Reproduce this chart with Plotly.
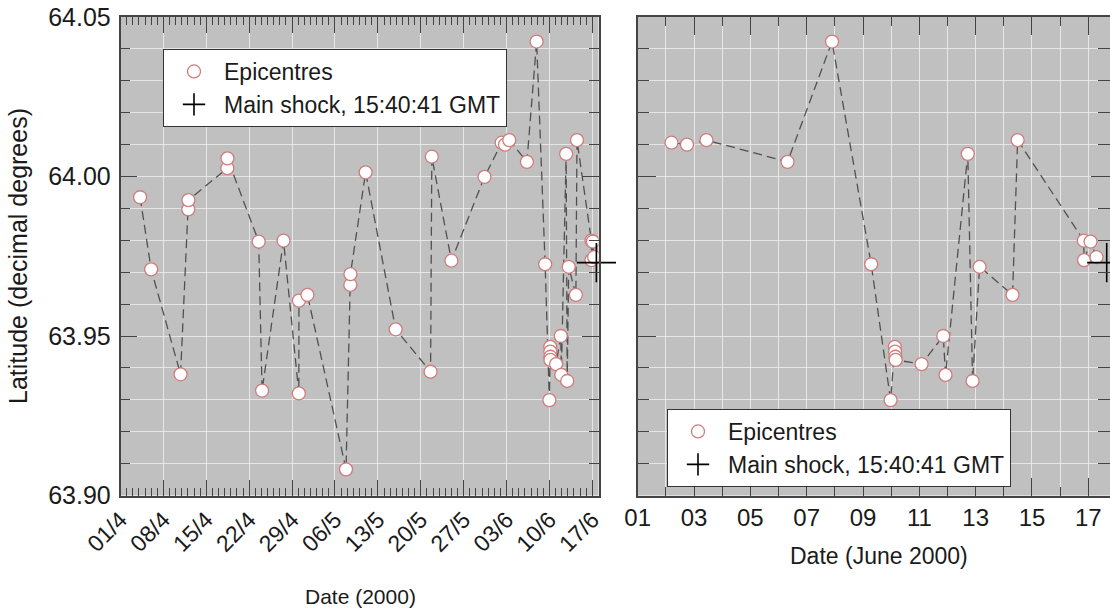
import plotly.graph_objects as go
import pandas as pd

# ---------------- data ----------------
epi_times = [
    "2000-04-04 04:48", "2000-04-06 00:00", "2000-04-10 19:12", "2000-04-12 01:26",
    "2000-04-12 02:00", "2000-04-18 10:19", "2000-04-18 10:48", "2000-04-23 13:12",
    "2000-04-24 02:24", "2000-04-27 14:24", "2000-04-30 02:24", "2000-04-30 02:53",
    "2000-05-01 12:00", "2000-05-07 19:12", "2000-05-08 12:00", "2000-05-08 12:29",
    "2000-05-11 00:00", "2000-05-15 21:36", "2000-05-21 14:24", "2000-05-21 19:12",
    "2000-05-25 00:00", "2000-05-30 09:36",
    "2000-06-02 04:48", "2000-06-02 18:00", "2000-06-03 10:34", "2000-06-06 07:41",
    "2000-06-07 21:36", "2000-06-09 06:58", "2000-06-09 23:31", "2000-06-10 03:07",
    "2000-06-10 03:20", "2000-06-10 03:35", "2000-06-10 03:50", "2000-06-11 01:55",
    "2000-06-11 20:24", "2000-06-11 22:19", "2000-06-12 17:17", "2000-06-12 21:22",
    "2000-06-13 03:22", "2000-06-14 07:26", "2000-06-14 11:46", "2000-06-16 20:10",
    "2000-06-16 20:20", "2000-06-17 01:55", "2000-06-17 06:58",
]
epi_lats = [
    63.9935, 63.9709, 63.9380, 63.9897,
    63.9926, 64.0026, 64.0057, 63.9796,
    63.9329, 63.9799, 63.9320, 63.9611,
    63.9629, 63.9082, 63.9660, 63.9694,
    64.0013, 63.9521, 63.9388, 64.0062,
    63.9736, 63.9999,
    64.0106, 64.0100, 64.0114, 64.0046,
    64.0423, 63.9725, 63.9299, 63.9466,
    63.9451, 63.9435, 63.9425, 63.9412,
    63.9500, 63.9378, 64.0071, 63.9359,
    63.9717, 63.9629, 64.0114, 63.9799,
    63.9738, 63.9796, 63.9747,
]
shock_time = ["2000-06-17 15:40:41"]
shock_lat = [63.973]

left_tick_dates = ["2000-04-01", "2000-04-08", "2000-04-15", "2000-04-22", "2000-04-29",
                   "2000-05-06", "2000-05-13", "2000-05-20", "2000-05-27", "2000-06-03",
                   "2000-06-10", "2000-06-17"]
left_tick_labels = ["01/4", "08/4", "15/4", "22/4", "29/4", "06/5", "13/5", "20/5",
                    "27/5", "03/6", "10/6", "17/6"]
right_tick_dates = ["2000-06-01", "2000-06-03", "2000-06-05", "2000-06-07", "2000-06-09",
                    "2000-06-11", "2000-06-13", "2000-06-15", "2000-06-17"]
right_tick_labels = ["01", "03", "05", "07", "09", "11", "13", "15", "17"]
lat_tick_vals = [63.90, 63.95, 64.00, 64.05]
lat_tick_labels = ["63.90", "63.95", "64.00", "64.05"]

# ---------------- figure ----------------
FONT = "Liberation Sans, Arial, sans-serif"
TXT = "#1a1a1a"
AX = "#444444"
GRID = "#e6e6e6"
EDGE = "#d07c7c"

t = pd.to_datetime(pd.Series(epi_times))
lat = pd.Series(epi_lats)
june = t >= pd.Timestamp("2000-06-01")

fig = go.Figure()

def add_panel(xs, ys, xa, ya, leg):
    fig.add_trace(go.Scatter(x=xs, y=ys, mode="lines", xaxis=xa, yaxis=ya,
                             line=dict(color="#505050", width=1.3, dash="9px,5px"),
                             showlegend=False, hoverinfo="skip"))
    fig.add_trace(go.Scatter(x=xs, y=ys, mode="markers", xaxis=xa, yaxis=ya,
                             name="Epicentres", legend=leg,
                             marker=dict(symbol="circle", size=13, color="white",
                                         line=dict(color=EDGE, width=1.3))))
    fig.add_trace(go.Scatter(x=shock_time, y=shock_lat, mode="markers", xaxis=xa, yaxis=ya,
                             name="Main shock, 15:40:41 GMT", legend=leg, cliponaxis=False,
                             marker=dict(symbol="cross-thin", size=28, color="black",
                                         line=dict(color="black", width=1.6))))

add_panel(t, lat, "x", "y", "legend")
add_panel(t[june], lat[june], "x2", "y2", "legend2")

W, H = 1110, 613
ydom = [(H - 495.5) / H, (H - 17) / H]

common_axis = dict(showline=True, mirror="ticks", linecolor=AX, linewidth=1.5,
                   ticks="inside", tickcolor=AX, tickwidth=1.2, automargin=False,
                   showgrid=True, gridcolor=GRID, gridwidth=1, zeroline=False,
                   tickfont=dict(family=FONT, size=24, color=TXT))

fig.update_layout(
    width=W, height=H, margin=dict(l=0, r=0, t=0, b=0), autosize=False,
    paper_bgcolor="white", plot_bgcolor="#c0c0c0",
    font=dict(family=FONT, color=TXT),
    xaxis=dict(common_axis, domain=[120.5 / W, 598.5 / W], type="date",
               range=["2000-04-01", "2000-06-18"],
               tickvals=left_tick_dates, ticktext=left_tick_labels, tickangle=-45,
               ticklen=16, tickfont=dict(family=FONT, size=23, color=TXT),
               minor=dict(dtick=86400000, tick0="2000-04-01", ticks="inside", ticklen=8,
                          tickcolor=AX, tickwidth=1, showgrid=False)),
    yaxis=dict(common_axis, domain=ydom, range=[63.90, 64.05],
               tickvals=lat_tick_vals, ticktext=lat_tick_labels, ticklen=17,
               tickfont=dict(family=FONT, size=25, color=TXT), ticklabelstandoff=3,
               minor=dict(dtick=0.01, tick0=63.90, ticks="inside", ticklen=10,
                          tickcolor=AX, tickwidth=1, showgrid=True, gridcolor=GRID)),
    xaxis2=dict(common_axis, domain=[637.7 / W, 1.0], type="date", anchor="y2",
                range=["2000-06-01", "2000-06-17 18:29"],
                tickvals=right_tick_dates, ticktext=right_tick_labels, tickangle=0,
                ticklen=18,
                minor=dict(dtick=86400000, tick0="2000-06-02", ticks="inside", ticklen=9,
                           tickcolor=AX, tickwidth=1, showgrid=True, gridcolor=GRID)),
    yaxis2=dict(common_axis, domain=ydom, range=[63.90, 64.05], anchor="x2",
                tickvals=lat_tick_vals, ticktext=lat_tick_labels, ticklen=19,
                showticklabels=False,
                minor=dict(dtick=0.01, tick0=63.90, ticks="inside", ticklen=12,
                           tickcolor=AX, tickwidth=1, showgrid=True, gridcolor=GRID)),
    legend=dict(x=163 / W, y=(H - 49) / H, xanchor="left", yanchor="top",
                bgcolor="white", bordercolor="#333333", borderwidth=1,
                font=dict(family=FONT, size=23, color=TXT), itemwidth=50,
                traceorder="normal"),
    legend2=dict(x=667 / W, y=(H - 409) / H, xanchor="left", yanchor="top",
                 bgcolor="white", bordercolor="#333333", borderwidth=1,
                 font=dict(family=FONT, size=23, color=TXT), itemwidth=50,
                 traceorder="normal"),
    annotations=[
        dict(text="Latitude (decimal degrees)", x=18 / W, y=(H - 256) / H,
             xref="paper", yref="paper", showarrow=False, textangle=-90,
             xanchor="center", yanchor="middle",
             font=dict(family=FONT, size=25, color=TXT)),
        dict(text="Date (2000)", x=360 / W, y=(H - 596) / H,
             xref="paper", yref="paper", showarrow=False,
             xanchor="center", yanchor="middle",
             font=dict(family=FONT, size=21, color=TXT)),
        dict(text="Date (June 2000)", x=879 / W, y=(H - 556) / H,
             xref="paper", yref="paper", showarrow=False,
             xanchor="center", yanchor="middle",
             font=dict(family=FONT, size=23, color=TXT)),
    ],
)

fig.write_html("out.html")
